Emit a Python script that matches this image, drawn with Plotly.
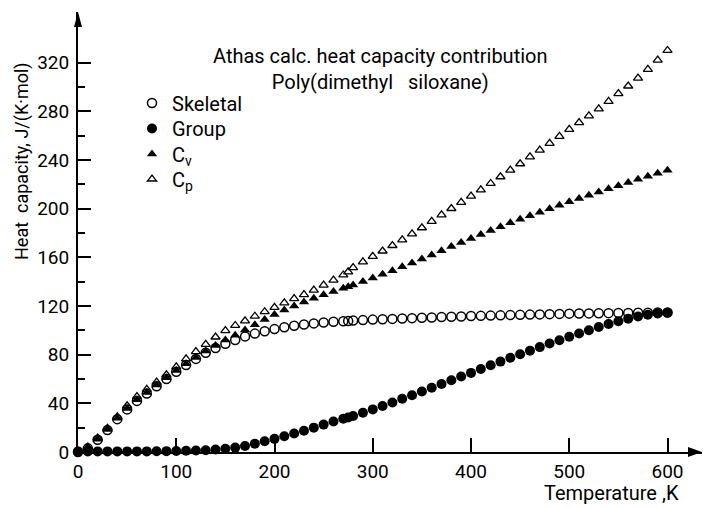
import plotly.graph_objects as go

# ---------------- data ----------------
T = [0, 10, 20, 30, 40, 50, 60, 70, 80, 90, 100, 110, 120, 130, 140, 150, 160, 170,
     180, 190, 200, 210, 220, 230, 240, 250, 260, 270, 275, 280, 290, 300, 310, 320,
     330, 340, 350, 360, 370, 380, 390, 400, 410, 420, 430, 440, 450, 460, 470, 480,
     490, 500, 510, 520, 530, 540, 550, 560, 570, 580, 590, 600]

skeletal = [0, 3, 10, 18, 27, 35, 42, 48, 54, 60, 66, 71.5, 76.5, 81.5, 85.5, 89, 92, 95,
            97.3, 99.2, 101, 102.5, 103.7, 104.8, 105.7, 106.4, 107, 107.5, 107.7, 108,
            108.4, 108.8, 109.1, 109.4, 109.7, 110, 110.3, 110.6, 110.9, 111.2, 111.4,
            111.7, 111.9, 112.1, 112.3, 112.5, 112.7, 112.9, 113.1, 113.3, 113.5, 113.7,
            113.8, 113.9, 114, 114.1, 114.2, 114.3, 114.4, 114.5, 114.6, 114.7]

group = [0.5, 0.5, 0.5, 0.5, 0.5, 0.5, 0.5, 0.5, 0.6, 0.7, 0.8, 1.0, 1.2, 1.5, 2.0, 2.7,
         3.6, 4.9, 6.8, 8.8, 10.8, 13, 15.2, 17.5, 20, 22.5, 25, 27.3, 28.4, 29.6, 32.2,
         35, 37.8, 40.7, 43.7, 46.7, 49.7, 52.8, 55.9, 59, 62, 65, 68.2, 71.3, 74.3,
         77.4, 80.4, 83.3, 86.2, 89.1, 91.9, 94.7, 97.4, 100.1, 102.7, 105.2, 107.5,
         109.6, 111.4, 112.8, 113.8, 114.4]

cv = [0.5, 3.5, 10.5, 18.5, 27.8, 35.8, 43, 49, 55, 61, 67, 72.5, 77.7, 83, 87.5, 92,
      96, 100.3, 104.6, 108.9, 113, 116.6, 120, 123.2, 126.3, 129.2, 132, 134.6, 135.9,
      137.3, 140.1, 143, 146, 149, 152.2, 155.4, 158.6, 162, 165.4, 168.8, 172.2, 175.5,
      178.8, 182, 185.2, 188.3, 191.3, 194.2, 197.1, 200, 202.8, 205.6, 208.3, 211,
      213.7, 216.3, 218.9, 221.5, 224.1, 226.6, 229.1, 231.6]

cp = [0.5, 4, 11.5, 19.5, 29, 38, 45.5, 51.5, 57.5, 63.5, 70, 76.5, 82.5, 88.5, 94.5,
      99.8, 104, 107.8, 111.6, 115.3, 118.9, 122.5, 126, 129.4, 133.1, 137.1, 141.2,
      145.5, 148, 151.5, 156.2, 160.8, 165.2, 169.7, 174.3, 179.3, 184.3, 189.5, 194.9,
      200.1, 205.2, 210.3, 215.4, 220.7, 226.2, 231.6, 236.9, 242.5, 248.1, 253.7,
      259.4, 265.1, 270.7, 276.3, 282, 288.2, 294.5, 300.8, 307.3, 314.4, 322, 330]

series_names = ["Skeletal", "Group", "C<sub>v</sub>", "C<sub>p</sub>"]

x_ticks = [0, 100, 200, 300, 400, 500, 600]
y_ticks = [0, 40, 80, 120, 160, 200, 240, 280, 320]
y_minor = [20, 60, 100, 140, 180, 220, 260, 300]

FONT = "Roboto"


# pixel helpers for annotations/decor (plot area: left 78, right 702, top 12, bottom 452)
def px(xp):
    return (xp - 78) / 624.0


def py(yp):
    return (452 - yp) / 440.0


fig = go.Figure()
fig.add_trace(go.Scatter(x=T, y=skeletal, mode="markers", name=series_names[0],
                         cliponaxis=False, legend="legend",
                         marker=dict(symbol="circle-open", size=9, color="black",
                                     line=dict(width=1.5, color="black"))))
fig.add_trace(go.Scatter(x=T, y=group, mode="markers", name=series_names[1],
                         cliponaxis=False, legend="legend2",
                         marker=dict(symbol="circle", size=10, color="black")))
fig.add_trace(go.Scatter(x=T, y=cv, mode="markers", name=series_names[2],
                         cliponaxis=False, legend="legend3",
                         marker=dict(symbol="triangle-up", size=9, color="black")))
fig.add_trace(go.Scatter(x=T, y=cp, mode="markers", name=series_names[3],
                         cliponaxis=False, legend="legend4",
                         marker=dict(symbol="triangle-up-open", size=8, color="black",
                                     line=dict(width=1.3, color="black"))))


def leg(row_y):
    return dict(x=px(132), y=py(row_y), xanchor="left", yanchor="middle",
                bgcolor="rgba(0,0,0,0)", font=dict(size=20, family=FONT),
                itemsizing="trace", borderwidth=0)


fig.update_layout(
    width=703, height=507,
    margin=dict(l=78, r=1, t=12, b=55),
    paper_bgcolor="white", plot_bgcolor="white",
    font=dict(family=FONT, size=18, color="black"),
    showlegend=True,
    legend=leg(103),
    legend2=leg(128.5),
    legend3=leg(154),
    legend4=leg(179),
    xaxis=dict(range=[0, 635.1], showline=True, linewidth=2, linecolor="black",
               ticks="inside", ticklen=14, tickwidth=1.5, tickcolor="black",
               tickvals=x_ticks, showgrid=False, zeroline=False,
               tickfont=dict(size=19, family=FONT), ticklabelstandoff=1),
    yaxis=dict(range=[0, 361.6], showline=True, linewidth=2, linecolor="black",
               ticks="inside", ticklen=13, tickwidth=1.5, tickcolor="black",
               tickvals=y_ticks, showgrid=False, zeroline=False,
               tickfont=dict(size=19, family=FONT), ticklabelstandoff=3,
               minor=dict(tickvals=y_minor, ticks="inside", ticklen=7, tickwidth=1.5,
                          tickcolor="black", showgrid=False)),
)

# arrowheads at the ends of the axes
fig.add_shape(type="path", xref="paper", yref="paper",
              path=f"M 1.0 0 L {px(688)} {py(447)} L {px(688)} {py(457)} Z",
              fillcolor="black", line=dict(width=0))
fig.add_shape(type="path", xref="paper", yref="paper",
              path=f"M 0 1.0 L {px(74)} {py(27)} L {px(82)} {py(27)} Z",
              fillcolor="black", line=dict(width=0))

# titles
fig.add_annotation(text="Athas calc. heat capacity contribution<br>"
                        "Poly(dimethyl   siloxane)",
                   xref="paper", yref="paper", align="center",
                   x=px(380), y=py(69), showarrow=False, xanchor="center", yanchor="middle",
                   font=dict(size=20, family=FONT))
fig.add_annotation(text="Heat  capacity, J/(K·mol)", xref="paper", yref="paper",
                   x=px(22), y=py(161), showarrow=False, textangle=-90,
                   xanchor="center", yanchor="middle", font=dict(size=18, family=FONT))
fig.add_annotation(text="Temperature ,K", xref="paper", yref="paper",
                   x=px(611), y=py(493), showarrow=False, xanchor="center", yanchor="middle",
                   font=dict(size=20, family=FONT))

fig.write_html("out.html")
